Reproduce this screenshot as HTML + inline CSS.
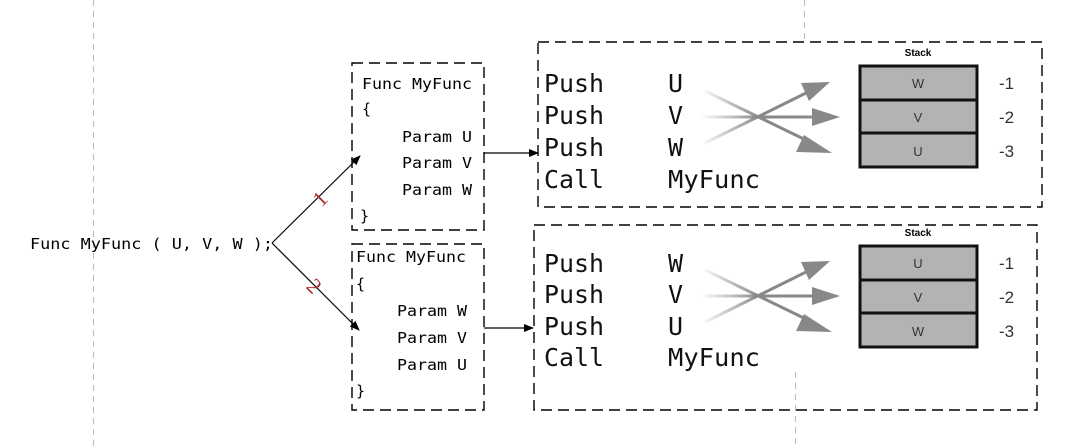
<!DOCTYPE html>
<html><head><meta charset="utf-8"><style>
html,body{margin:0;padding:0;background:#fff;}
svg{display:block;}
.m{font-family:"DejaVu Sans Mono","Liberation Mono",monospace;}
</style></head><body>
<svg width="1077" height="448" viewBox="0 0 1077 448" xmlns="http://www.w3.org/2000/svg">
<defs>
<marker id="ah" markerWidth="10" markerHeight="8" refX="9" refY="4" orient="auto" markerUnits="userSpaceOnUse"><path d="M0,0 L10,4 L0,8 z" fill="#000"/></marker>
<linearGradient id="fadeU" gradientUnits="userSpaceOnUse" x1="700" y1="0" x2="760" y2="0"><stop offset="0" stop-color="#888" stop-opacity="0"/><stop offset="1" stop-color="#888" stop-opacity="1"/></linearGradient>
<g id="cluster">
<line x1="705" y1="143" x2="810" y2="91" stroke="url(#fadeU)" stroke-width="3"/>
<polygon points="830,82 801,83 809,101" fill="#888"/>
<line x1="695" y1="117" x2="815" y2="117" stroke="url(#fadeU)" stroke-width="3"/>
<polygon points="840,117 812,108 812,126" fill="#888"/>
<line x1="705" y1="91" x2="812" y2="143" stroke="url(#fadeU)" stroke-width="3"/>
<polygon points="832,153 804,135 796,152" fill="#888"/>
</g>
<g id="stack">
<rect x="860" y="66" width="117" height="101" fill="#b3b3b3" stroke="#111" stroke-width="3"/>
<line x1="860" y1="100" x2="977" y2="100" stroke="#111" stroke-width="3"/>
<line x1="860" y1="133" x2="977" y2="133" stroke="#111" stroke-width="3"/>
<text x="918" y="56" font-family="Liberation Sans,sans-serif" font-size="10" font-weight="bold" text-anchor="middle">Stack</text>
<g font-family="Liberation Sans Narrow,Liberation Sans,sans-serif" font-size="17" fill="#333">
<text x="999" y="89">-1</text><text x="999" y="123">-2</text><text x="999" y="157">-3</text></g>
</g>
</defs>

<g stroke="#bbb" stroke-width="1" stroke-dasharray="6,5">
<line x1="93.5" y1="0" x2="93.5" y2="448"/>
<line x1="804.5" y1="0" x2="804.5" y2="40"/>
<line x1="795.5" y1="372" x2="795.5" y2="448"/>
</g>

<g fill="none" stroke="#000" stroke-width="1.4" stroke-dasharray="11,6">
<rect x="352" y="63" width="132" height="167"/>
<rect x="352" y="244" width="132" height="166"/>
<rect x="538" y="42" width="504" height="165"/>
<rect x="534" y="225" width="503" height="185"/>
</g>

<text class="m" x="30" y="249" font-size="15" textLength="243" lengthAdjust="spacingAndGlyphs">Func MyFunc ( U, V, W );</text>

<g class="m" font-size="15">
<text x="362" y="89" textLength="110" lengthAdjust="spacingAndGlyphs">Func MyFunc</text>
<text x="362" y="114">{</text>
<text x="402" y="142" textLength="70" lengthAdjust="spacingAndGlyphs">Param U</text>
<text x="402" y="168" textLength="70" lengthAdjust="spacingAndGlyphs">Param V</text>
<text x="402" y="195" textLength="70" lengthAdjust="spacingAndGlyphs">Param W</text>
<text x="360" y="221">}</text>
<text x="356" y="262" textLength="110" lengthAdjust="spacingAndGlyphs">Func MyFunc</text>
<text x="356" y="289">{</text>
<text x="397" y="316" textLength="70" lengthAdjust="spacingAndGlyphs">Param W</text>
<text x="397" y="343" textLength="70" lengthAdjust="spacingAndGlyphs">Param V</text>
<text x="397" y="370" textLength="70" lengthAdjust="spacingAndGlyphs">Param U</text>
<text x="356" y="396">}</text>
</g>

<g stroke="#000" stroke-width="1.2" marker-end="url(#ah)">
<line x1="272" y1="243" x2="360" y2="156"/>
<line x1="272" y1="243" x2="359" y2="330"/>
<line x1="484" y1="153" x2="538" y2="153"/>
<line x1="484" y1="328" x2="533" y2="328"/>
</g>
<text x="314" y="206" font-family="Liberation Serif,serif" font-size="22" fill="#b03030" transform="rotate(-45 320 198)">1</text>
<text x="309" y="294" font-family="Liberation Serif,serif" font-size="22" fill="#b03030" transform="rotate(45 315 286)">2</text>

<g class="m" font-size="25" fill="#111">
<text x="544" y="92" textLength="60" lengthAdjust="spacingAndGlyphs">Push</text><text x="668" y="92">U</text>
<text x="544" y="124" textLength="60" lengthAdjust="spacingAndGlyphs">Push</text><text x="668" y="124">V</text>
<text x="544" y="156" textLength="60" lengthAdjust="spacingAndGlyphs">Push</text><text x="668" y="156">W</text>
<text x="544" y="188" textLength="60" lengthAdjust="spacingAndGlyphs">Call</text><text x="668" y="188" textLength="92" lengthAdjust="spacingAndGlyphs">MyFunc</text>
<text x="544" y="272" textLength="60" lengthAdjust="spacingAndGlyphs">Push</text><text x="668" y="272">W</text>
<text x="544" y="303" textLength="60" lengthAdjust="spacingAndGlyphs">Push</text><text x="668" y="303">V</text>
<text x="544" y="335" textLength="60" lengthAdjust="spacingAndGlyphs">Push</text><text x="668" y="335">U</text>
<text x="544" y="366" textLength="60" lengthAdjust="spacingAndGlyphs">Call</text><text x="668" y="366" textLength="92" lengthAdjust="spacingAndGlyphs">MyFunc</text>
</g>

<use href="#cluster"/>
<use href="#cluster" transform="translate(0,179)"/>
<use href="#stack"/>
<use href="#stack" transform="translate(0,180)"/>

<g font-family="Liberation Sans Narrow,Liberation Sans,sans-serif" font-size="13" fill="#333" text-anchor="middle">
<text x="918" y="88">W</text><text x="918" y="122">V</text><text x="918" y="156">U</text>
<text x="918" y="268">U</text><text x="918" y="302">V</text><text x="918" y="336">W</text>
</g>
</svg>
</body></html>
